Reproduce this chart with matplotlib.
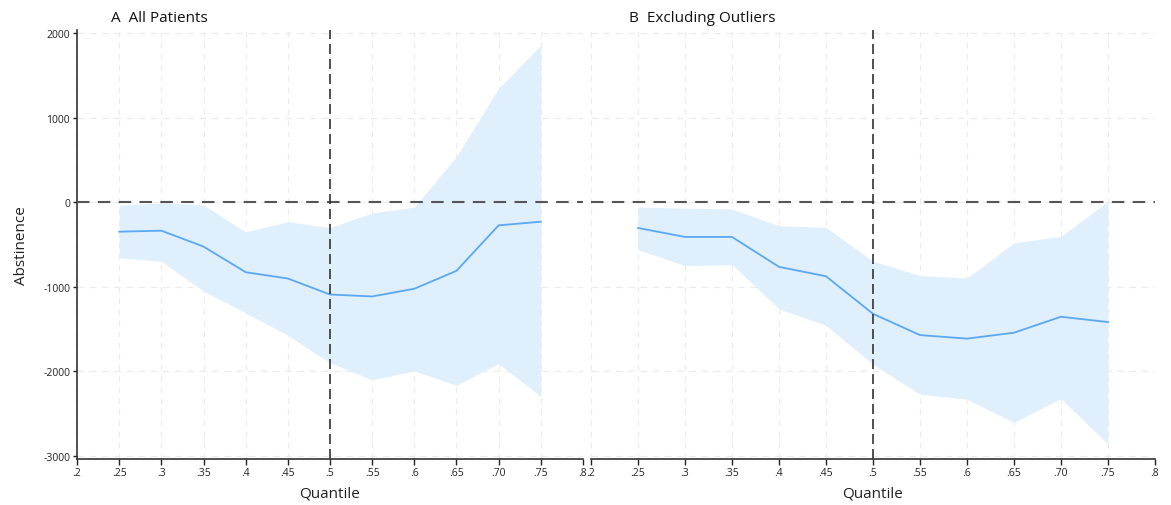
import matplotlib.pyplot as plt
import numpy as np

plt.rcParams['font.family'] = ['Open Sans', 'DejaVu Sans']

quantiles = [0.25, 0.30, 0.35, 0.40, 0.45, 0.50, 0.55, 0.60, 0.65, 0.70, 0.75]

# panel A: all patients
a_est = [-347, -335, -523, -826, -901, -1090, -1113, -1022, -810, -272, -229]
a_upper = [-36, -5, -30, -350, -229, -300, -126, -56, 540, 1348, 1858]
a_lower = [-657, -697, -1050, -1306, -1573, -1897, -2100, -1994, -2163, -1907, -2296]

# panel B: excluding outliers
b_est = [-303, -409, -409, -763, -874, -1318, -1570, -1612, -1542, -1353, -1416]
b_upper = [-56, -68, -80, -276, -296, -697, -866, -897, -480, -402, 11]
b_lower = [-560, -748, -736, -1259, -1455, -1915, -2269, -2328, -2603, -2320, -2859]

xticks = [0.2, 0.25, 0.3, 0.35, 0.4, 0.45, 0.5, 0.55, 0.6, 0.65, 0.7, 0.75, 0.8]
xlabels = ['.2', '.25', '.3', '.35', '.4', '.45', '.5', '.55', '.6', '.65', '.70', '.75', '.8']
yticks = [2000, 1000, 0, -1000, -2000, -3000]

fill_col = '#dfeffc'
line_col = '#5aa8f2'

fig = plt.figure(figsize=(11.71, 5.06), dpi=100)
axA = fig.add_axes([0.0658, 0.091, 0.432, 0.848])
axB = fig.add_axes([0.5047, 0.091, 0.4816, 0.848], sharey=axA)

panels = [(axA, a_est, a_upper, a_lower, 'A  All Patients'),
          (axB, b_est, b_upper, b_lower, 'B  Excluding Outliers')]

for ax, est, up, lo, title in panels:
    ax.fill_between(quantiles, lo, up, color=fill_col, lw=0, zorder=1)
    ax.plot(quantiles, est, color=line_col, lw=1.3, zorder=3)
    ax.set_xlim(0.2, 0.8)
    ax.set_ylim(-3035, 2040)
    ax.set_xticks(xticks)
    ax.set_xticklabels(xlabels)
    for v in xticks:
        ax.axvline(v, color='#ebebeb', lw=0.8, ls=(0, (5, 5)), zorder=0)
    for v in yticks:
        ax.axhline(v, color='#ebebeb', lw=0.8, ls=(0, (6, 5)), zorder=0)
    ax.axhline(0, color='#555555', lw=1.5, ls=(0, (6, 4)), zorder=4)
    ax.axvline(0.5, color='#333333', lw=1.2, ls=(0, (6, 3)), zorder=4)
    ax.set_xlabel('Quantile', fontsize=11, labelpad=5, color='#222222')
    ax.text(0.25 - 0.01, 1.0 + 0.012, title, transform=ax.get_xaxis_transform(),
            fontsize=11, ha='left', va='bottom', color='#111111')
    ax.tick_params(axis='x', labelsize=7.5, length=4, width=1, pad=2, colors='#222222')
    for s in ['top', 'right']:
        ax.spines[s].set_visible(False)
    ax.spines['bottom'].set_linewidth(1.2)
    ax.spines['bottom'].set_color('#333333')

axA.set_yticks(yticks)
axA.set_yticklabels(['2000', '1000', '0', '-1000', '-2000', '-3000'])
axA.tick_params(axis='y', labelsize=7.5, length=3, width=1, pad=2, colors='#222222')
axA.spines['left'].set_linewidth(1.2)
axA.spines['left'].set_color('#333333')
axA.set_ylabel('Abstinence', fontsize=11, labelpad=10, color='#222222')

axB.spines['left'].set_visible(False)
axB.tick_params(axis='y', left=False, labelleft=False)

fig.savefig('out.png', dpi=100)
